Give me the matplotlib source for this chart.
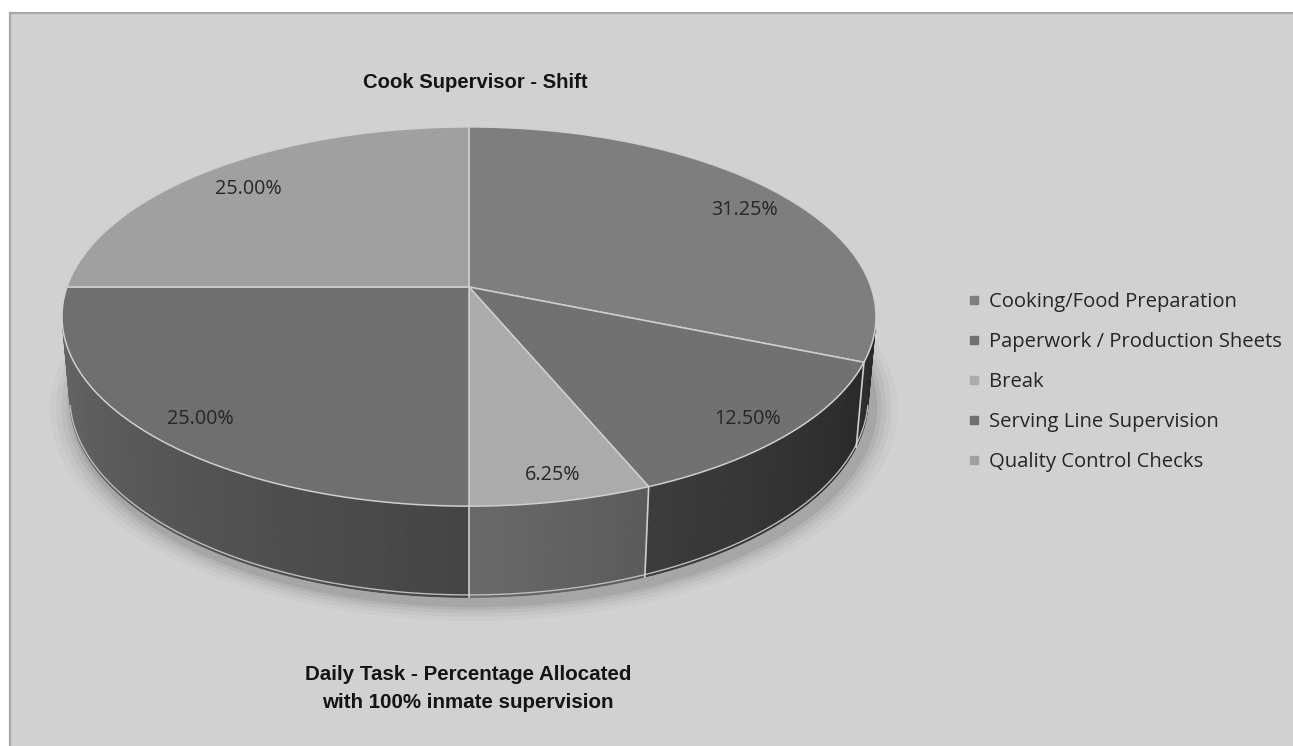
import numpy as np
import matplotlib
matplotlib.use('Agg')
import matplotlib.pyplot as plt
from matplotlib.patches import Polygon, Rectangle
from matplotlib.lines import Line2D

# ---------------- data ----------------
categories = ['Cooking/Food Preparation', 'Paperwork / Production Sheets', 'Break',
              'Serving Line Supervision', 'Quality Control Checks']
values = [31.25, 12.50, 6.25, 25.00, 25.00]
value_labels = ['31.25%', '12.50%', '6.25%', '25.00%', '25.00%']
title_top = 'Cook Supervisor - Shift'
title_bottom = 'Daily Task - Percentage Allocated\nwith 100% inmate supervision'

top_colors = ['#7e7e7e', '#717171', '#ababab', '#6f6f6f', '#a0a0a0']

# ---------------- geometry of the 3D view ----------------
W, H = 1293, 746
S = 402.0            # px per unit radius
CX, CY = 469.0, 287.0  # pixel position of pie centre
phi = np.deg2rad(27.4)
dist = 5.7
thick = 0.232
cphi, sphi = np.cos(phi), np.sin(phi)


def proj(X, Y, Z):
    X = np.asarray(X, float); Y = np.asarray(Y, float); Z = np.asarray(Z, float)
    pv = -Y * cphi + Z * sphi
    depth = dist - pv
    pu = Y * sphi + Z * cphi
    s = dist / depth
    return X * s, pu * s


def rim(t_deg, z, r=1.0):
    t = np.deg2rad(t_deg)
    return proj(r * np.cos(t), r * np.sin(t), np.full_like(t, z, dtype=float))


def shade(hexcol, k):
    c = np.array(matplotlib.colors.to_rgb(hexcol)) * k
    return np.clip(c, 0, 1)


fig = plt.figure(figsize=(W / 100, H / 100), dpi=100)
fig.patch.set_facecolor('white')

bg = fig.add_axes([0, 0, 1, 1])
bg.set_xlim(0, W); bg.set_ylim(H, 0); bg.axis('off')
bg.add_patch(Rectangle((10, 13), W + 20, H + 20, facecolor='#d1d1d1',
                       edgecolor='#a8a8a8', lw=1.6))

ax = fig.add_axes([0, 0, 1, 1])
ax.set_xlim(-CX / S, (W - CX) / S)
ax.set_ylim(-(H - CY) / S, CY / S)
ax.axis('off')
ax.patch.set_alpha(0)

vals = np.array(values, float)
fr = vals / vals.sum()
bounds = 90 - 360 * np.concatenate([[0], np.cumsum(fr)])

# soft shadow
tt = np.linspace(0, 360, 361)
for grow, a in [(0.06, 0.025), (0.045, 0.03), (0.032, 0.04), (0.02, 0.05), (0.01, 0.07)]:
    sx, sy = rim(tt, -thick, 1.0 + grow)
    ax.add_patch(Polygon(np.c_[sx + 0.012, sy - 0.018], closed=True, facecolor='black',
                         edgecolor='none', alpha=a, zorder=1))

# visible side range
lim = np.rad2deg(np.arcsin(1.0 / (dist * cphi)))
vis_lo, vis_hi = -180 + lim, -lim


def kfun(t):
    return 0.28 + 0.67 * (-t / 180.0)


edge_col = '#cfcfcf'
for i in range(len(vals)):
    t0, t1 = bounds[i], bounds[i + 1]  # t0 > t1
    a_hi = min(t0, vis_hi); a_lo = max(t1, vis_lo)
    if a_hi > a_lo:
        n = max(4, int((a_hi - a_lo) / 1.0))
        ts = np.linspace(a_hi, a_lo, n + 1)
        for j in range(n):
            ta, tb = ts[j], ts[j + 1]
            xa, ya = rim(np.array([ta, tb]), 0.0)
            xb, yb = rim(np.array([tb, ta]), -thick)
            col = shade(top_colors[i], kfun(0.5 * (ta + tb)))
            ax.add_patch(Polygon(np.c_[np.r_[xa, xb], np.r_[ya, yb]], closed=True,
                                 facecolor=col, edgecolor=col, lw=0.6, zorder=3))
        # bottom rim highlight
        bx, by = rim(ts, -thick)
        ax.plot(bx, by + 0.006, color='#bdbdbd', lw=1.0, zorder=4)

# vertical boundary lines on side
for b in bounds:
    bb = ((b + 180) % 360) - 180
    if vis_lo < bb < vis_hi:
        x0, y0 = rim(np.array([bb]), 0.0)
        x1, y1 = rim(np.array([bb]), -thick)
        ax.plot([x0[0], x1[0]], [y0[0], y1[0]], color=edge_col, lw=1.2, zorder=4)

# top faces
for i in range(len(vals)):
    t0, t1 = bounds[i], bounds[i + 1]
    ts = np.linspace(t0, t1, max(8, int(abs(t0 - t1) * 2)))
    x, y = rim(ts, 0.0)
    cx0, cy0 = proj(0.0, 0.0, 0.0)
    poly = np.c_[np.r_[cx0, x], np.r_[cy0, y]]
    ax.add_patch(Polygon(poly, closed=True, facecolor=top_colors[i], edgecolor=edge_col,
                         lw=1.1, zorder=5, joinstyle='round'))

# value labels
lab_font = ['Open Sans', 'DejaVu Sans']
for i in range(len(vals)):
    tm = 0.5 * (bounds[i] + bounds[i + 1])
    lx, ly = rim(np.array([tm]), 0.0, 0.87)
    ax.text(lx[0] + 0.012, ly[0] - 0.015, value_labels[i], ha='center', va='center',
            fontsize=14.2, family=lab_font, color='#262626', zorder=6)

# legend
handles = [Line2D([0], [0], marker='s', linestyle='none', markersize=5.5,
                  markerfacecolor=c, markeredgecolor=c) for c in top_colors]
leg = fig.legend(handles, categories, loc='center left', bbox_to_anchor=(968 / W, 1 - 382 / H),
                 frameon=False, prop={'family': lab_font, 'size': 14.6}, labelspacing=0.98,
                 handlelength=0.6, handletextpad=0.45, borderpad=0, borderaxespad=0)
for t in leg.get_texts():
    t.set_color('#262626')

title_font = ['Liberation Sans', 'DejaVu Sans']
fig.text(475 / W, 1 - 83 / H, title_top, ha='center', va='center', fontsize=14.6,
         fontweight='bold', family=title_font, color='#141414')
fig.text(468 / W, 1 - 689 / H, title_bottom, ha='center', va='center', fontsize=14.8,
         fontweight='bold', family=title_font, color='#141414', linespacing=1.6)

fig.savefig('out.png', dpi=100, facecolor='white')
